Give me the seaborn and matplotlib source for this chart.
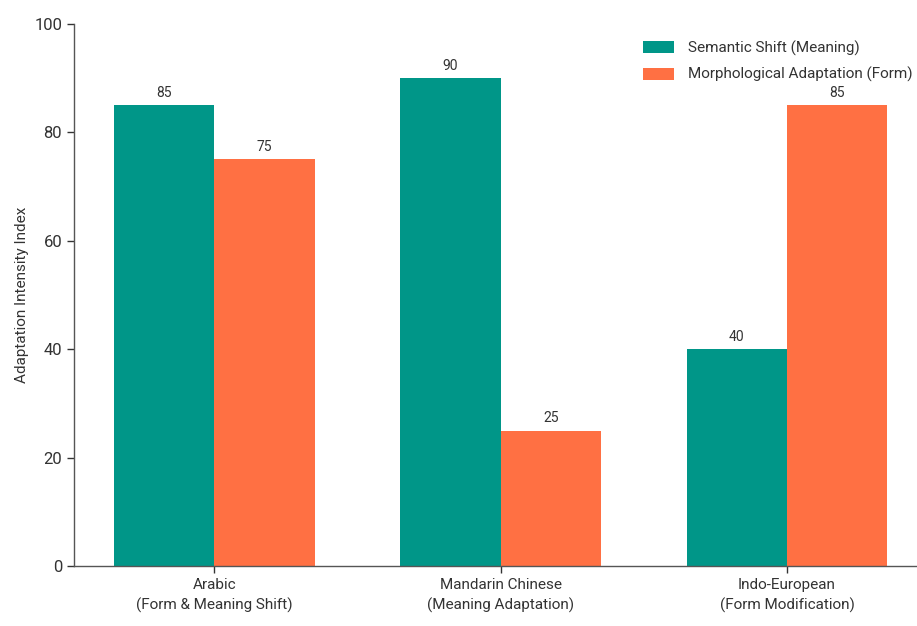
import matplotlib
matplotlib.use("Agg")
import matplotlib.pyplot as plt
import seaborn as sns
import pandas as pd

categories = ["Arabic\n(Form & Meaning Shift)", "Mandarin Chinese\n(Meaning Adaptation)", "Indo-European\n(Form Modification)"]
series_names = ["Semantic Shift (Meaning)", "Morphological Adaptation (Form)"]
semantic = [85, 90, 40]
morph = [75, 25, 85]
colors = ["#009688", "#FF7043"]

df = pd.DataFrame({
    "cat": categories * 2,
    "series": [series_names[0]] * 3 + [series_names[1]] * 3,
    "value": semantic + morph,
})

sns.set_style("white")
plt.rcParams["font.family"] = ["Roboto", "DejaVu Sans"]
fig = plt.figure(figsize=(9.17, 6.26), dpi=100)
ax = fig.add_axes([0.0807, 0.0958, 0.918, 0.866])
sns.barplot(data=df, x="cat", y="value", hue="series", palette=colors,
            width=0.7, gap=0, ax=ax, saturation=1, errorbar=None, linewidth=0)
for c in ax.containers:
    ax.bar_label(c, padding=4, fontsize=10, color="#333333")
ax.set_ylim(0, 100)
ax.set_xlim(-0.49, 2.45)
ax.set_yticks([0, 20, 40, 60, 80, 100])
ax.set_xlabel("")
ax.set_ylabel("Adaptation Intensity Index", fontsize=11, color="#333333")
ax.tick_params(axis="y", labelsize=12, colors="#333333", length=5, width=1, left=True)
ax.tick_params(axis="x", labelsize=11, colors="#333333", length=5, width=1, bottom=True)
for lab in ax.get_xticklabels():
    lab.set_linespacing(1.45)
for s in ["top", "right"]:
    ax.spines[s].set_visible(False)
for s in ["left", "bottom"]:
    ax.spines[s].set_color("#555555")
    ax.spines[s].set_linewidth(1)
leg = ax.legend(loc="upper right", frameon=False, fontsize=11, handlelength=2.0,
                handleheight=0.8, handletextpad=0.9, labelspacing=0.75,
                bbox_to_anchor=(1.012, 0.995))
for t in leg.get_texts():
    t.set_color("#333333")
fig.savefig("out.png", dpi=100)
